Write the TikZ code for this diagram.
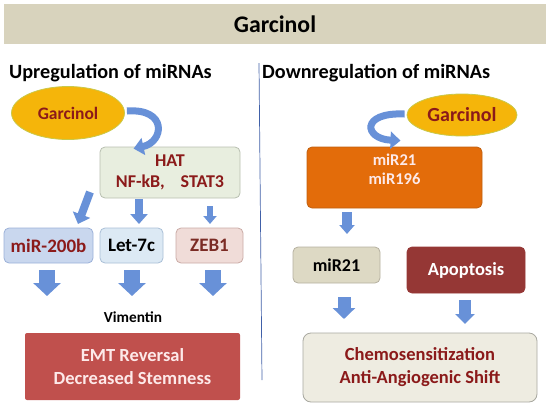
\documentclass[tikz,border=0pt]{standalone}
\usepackage{fontspec}
\setmainfont{Carlito}
\usetikzlibrary{arrows.meta,shapes.geometric,calc}
\definecolor{titlebg}{HTML}{D8D3BD}
\definecolor{ellfill}{HTML}{F5B50A}
\definecolor{elldraw}{HTML}{C9C94B}
\definecolor{dred}{HTML}{8B1A1A}
\definecolor{hatfill}{HTML}{E8EEDF}
\definecolor{hatdraw}{HTML}{B8BFB0}
\definecolor{mirfill}{HTML}{C9D7EE}
\definecolor{mirdraw}{HTML}{9BB0D8}
\definecolor{letfill}{HTML}{DCE9F4}
\definecolor{letdraw}{HTML}{A9BFD6}
\definecolor{zebfill}{HTML}{F0DCD8}
\definecolor{zebdraw}{HTML}{C9AAA5}
\definecolor{zebtext}{HTML}{7B2B24}
\definecolor{emtfill}{HTML}{C0504D}
\definecolor{lighttext}{HTML}{FDE9E9}
\definecolor{orfill}{HTML}{E36C0A}
\definecolor{ordraw}{HTML}{C06010}
\definecolor{begfill}{HTML}{DDD9C4}
\definecolor{begdraw}{HTML}{B5B0A0}
\definecolor{apofill}{HTML}{953735}
\definecolor{chefill}{HTML}{EEECE1}
\definecolor{chedraw}{HTML}{A8A8A0}
\definecolor{divline}{HTML}{4060A8}
\definecolor{arrblue}{HTML}{6891D8}
\begin{document}
\begin{tikzpicture}[x=1pt,y=-1pt,
  box/.style={rounded corners=5pt, draw, line width=0.8pt, align=center,
    font=\fontsize{19}{21}\selectfont\bfseries, inner sep=0pt},
  ell/.style={ellipse, draw=elldraw, fill=ellfill, line width=0.8pt, inner sep=0pt,
    text=dred, font=\fontsize{17.5}{20}\selectfont\bfseries},
  heading/.style={anchor=west, font=\fontsize{20.2}{23}\selectfont\bfseries, inner sep=0pt},
  barrow/.style={draw=arrblue, line width=#1},
  curvarrow/.style={draw=arrblue, line width=7pt, -{Triangle[width=17pt,length=10pt]}}
]
\useasboundingbox (0,0) rectangle (550,408);
% title
\node[fill=titlebg, minimum width=542pt, minimum height=40pt, inner sep=0pt,
  font=\fontsize{23.8}{26}\selectfont\bfseries] (title) at (275,24) {Garcinol};
\node[heading] (up) at (9,73) {Upregulation of miRNAs};
\node[heading] (down) at (262,73) {Downregulation of miRNAs};
\coordinate (dtop) at (259,63);
\coordinate (dbot) at (262,380);
\draw[divline, line width=0.7pt] (dtop) -- (dbot);

% left side
\node[ell, minimum width=113pt, minimum height=53pt] (gl) at (68,113) {Garcinol};
\node[box, draw=hatdraw, fill=hatfill, text=dred, minimum width=140pt, minimum height=51pt,
  font=\fontsize{18}{21}\selectfont\bfseries] (hat) at (170,172.5) {HAT\\NF-kB,\hspace{16pt}STAT3};
\node[box, draw=mirdraw, fill=mirfill, text=dred, minimum width=89pt, minimum height=35pt] (mir) at (48.5,245.5) {miR-200b};
\node[box, draw=letdraw, fill=letfill, text=black, minimum width=63pt, minimum height=35pt] (let) at (131.5,245.5) {Let-7c};
\node[box, draw=zebdraw, fill=zebfill, text=zebtext, minimum width=67pt, minimum height=35pt] (zeb) at (209.5,245.5) {ZEB1};
\node[font=\fontsize{15.3}{17}\selectfont\bfseries, inner sep=0pt] (vim) at (133,317) {Vimentin};
\node[draw=none, fill=emtfill, text=lighttext, minimum width=215pt, minimum height=67pt, align=center, inner sep=0pt,
  font=\fontsize{18.5}{23}\selectfont\bfseries,
  rounded corners=2pt] (emt) at (132.5,366.5) {EMT Reversal\\Decreased Stemness};

% left arrows
\draw[curvarrow] ($(gl.east)+(2,-2)$) .. controls (168,108) and (164,142) .. ($(hat.north west)+(34,2)$);
\coordinate (a1s) at (90,192);
\coordinate (a1e) at (78,224);
\draw[barrow=8pt, -{Triangle[width=18pt,length=10pt]}] (a1s) -- (a1e);
\coordinate (a2s) at (139,199);
\coordinate (a2e) at (139,224);
\draw[barrow=8pt, -{Triangle[width=17pt,length=10pt]}] (a2s) -- (a2e);
\coordinate (a3s) at (210,206);
\coordinate (a3e) at (210,224);
\draw[barrow=6pt, -{Triangle[width=13pt,length=8pt]}] (a3s) -- (a3e);
\foreach \n/\x in {b1/47,b2/132,b3/213}{
  \coordinate (\n s) at (\x,270);
  \coordinate (\n e) at (\x,296);
  \draw[barrow=16pt, -{Triangle[width=27pt,length=13pt]}] (\n s) -- (\n e);
}

% right side
\node[ell, minimum width=110pt, minimum height=42pt, font=\fontsize{20}{22}\selectfont\bfseries] (gr) at (462,115) {Garcinol};
\node[box, draw=ordraw, fill=orfill, text=lighttext, minimum width=175pt, minimum height=61pt,
  font=\fontsize{16.5}{20}\selectfont\bfseries] (mr) at (394.5,177.5)
  {\raisebox{7pt}[\height][\depth]{\begin{tabular}{@{}c@{}}miR21\\[-1pt]miR196\end{tabular}}};
\node[box, draw=begdraw, fill=begfill, text=black, minimum width=87pt, minimum height=36pt,
  font=\fontsize{18}{20}\selectfont\bfseries] (m21) at (336.5,265) {miR21};
\node[box, draw=apofill, fill=apofill, text=white, minimum width=118pt, minimum height=46pt,
  font=\fontsize{18.5}{20}\selectfont\bfseries] (apo) at (466,270) {Apoptosis};
\node[box, rounded corners=8pt, draw=chedraw, fill=chefill, text=dred, minimum width=234pt, minimum height=69pt,
  font=\fontsize{18.5}{23}\selectfont\bfseries] (che) at (420,367.5) {Chemosensitization\\Anti-Angiogenic Shift};

\draw[curvarrow] ($(gr.west)+(-2,-1)$) .. controls (360,112) and (364,139) .. ($(mr.north)+(6,-6)$);
\coordinate (c1s) at (347,212);
\coordinate (c1e) at (347,234);
\draw[barrow=10pt, -{Triangle[width=15pt,length=9pt]}] (c1s) -- (c1e);
\coordinate (c2s) at (344,297);
\coordinate (c2e) at (344,319);
\draw[barrow=13pt, -{Triangle[width=22pt,length=11pt]}] (c2s) -- (c2e);
\coordinate (c3s) at (465,300);
\coordinate (c3e) at (465,324);
\draw[barrow=12pt, -{Triangle[width=19pt,length=10pt]}] (c3s) -- (c3e);
\end{tikzpicture}
\end{document}
